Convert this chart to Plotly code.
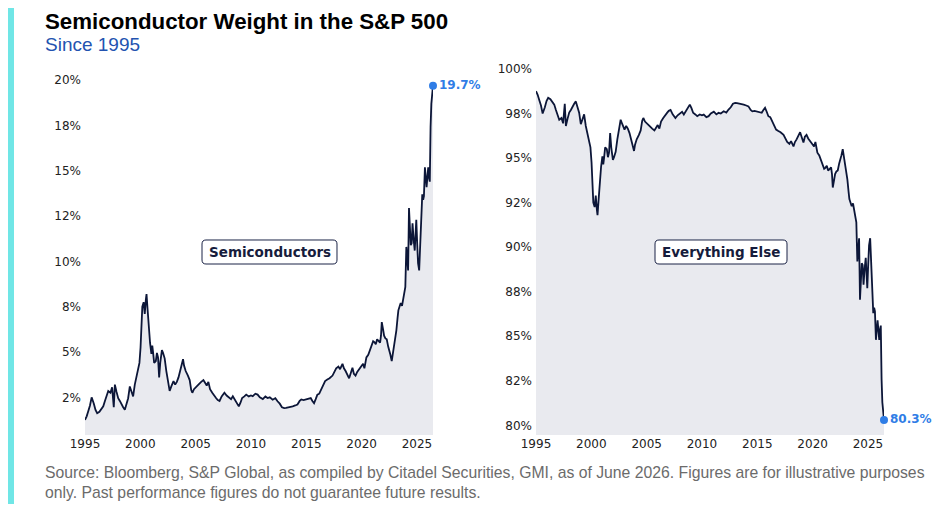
import plotly.graph_objects as go
from plotly.subplots import make_subplots

# decimal year of each reading
years = [
    1995.00, 1995.15, 1995.30, 1995.45, 1995.60, 1995.70, 1995.80, 1995.95,
    1996.10, 1996.30, 1996.50, 1996.65, 1996.80, 1996.95, 1997.10, 1997.30,
    1997.45, 1997.60, 1997.70, 1997.85, 1998.00, 1998.15, 1998.30, 1998.45,
    1998.60, 1998.75, 1998.90, 1999.05, 1999.20, 1999.35, 1999.50, 1999.65,
    1999.80, 1999.92, 2000.02, 2000.10, 2000.18, 2000.30, 2000.40, 2000.50,
    2000.56, 2000.65, 2000.72, 2000.80, 2000.88, 2001.00, 2001.08, 2001.15,
    2001.25, 2001.40, 2001.50, 2001.60, 2001.70, 2001.80, 2001.95, 2002.05,
    2002.20, 2002.35, 2002.50, 2002.65, 2002.80, 2003.00, 2003.15, 2003.30,
    2003.45, 2003.60, 2003.75, 2003.86, 2003.95, 2004.10, 2004.30, 2004.46,
    2004.60, 2004.70, 2004.85, 2005.05, 2005.25, 2005.50, 2005.70, 2005.85,
    2006.00, 2006.15, 2006.30, 2006.50, 2006.70, 2006.86, 2007.00, 2007.16,
    2007.35, 2007.60, 2007.80, 2008.06, 2008.20, 2008.36, 2008.55, 2008.75,
    2008.90, 2009.05, 2009.20, 2009.40, 2009.57, 2009.80, 2010.00, 2010.16,
    2010.40, 2010.60, 2010.80, 2011.07, 2011.30, 2011.50, 2011.70, 2011.96,
    2012.20, 2012.40, 2012.60, 2012.80, 2013.00, 2013.17, 2013.40, 2013.60,
    2013.77, 2014.00, 2014.20, 2014.40, 2014.55, 2014.75, 2014.97, 2015.20,
    2015.40, 2015.55, 2015.70, 2015.85, 2016.00, 2016.17, 2016.35, 2016.50,
    2016.70, 2016.90, 2017.10, 2017.37, 2017.55, 2017.70, 2017.90, 2018.05,
    2018.27, 2018.40, 2018.55, 2018.70, 2018.87, 2019.00, 2019.17, 2019.30,
    2019.45, 2019.60, 2019.77, 2019.95, 2020.13, 2020.25, 2020.43, 2020.60,
    2020.74, 2020.90, 2021.04, 2021.15, 2021.28, 2021.40, 2021.50, 2021.67,
    2021.75, 2021.82, 2021.95, 2022.03, 2022.15, 2022.27, 2022.40, 2022.48,
    2022.60, 2022.72, 2022.82, 2022.93, 2023.05, 2023.14, 2023.25, 2023.32,
    2023.45, 2023.53, 2023.65, 2023.75, 2023.85, 2023.95, 2024.04, 2024.12,
    2024.20, 2024.28, 2024.36, 2024.44, 2024.52, 2024.60, 2024.70, 2024.80,
    2024.88, 2024.94, 2025.02, 2025.10, 2025.20, 2025.28, 2025.33, 2025.40,
    2025.48, 2025.56, 2025.63, 2025.72, 2025.80, 2025.87, 2025.95, 2026.02,
    2026.10, 2026.16, 2026.23, 2026.30, 2026.45,
]

# semiconductor weight in the S&P 500, %
semis = [
    1.25, 1.45, 1.75, 2.05, 2.50, 2.35, 2.15, 1.80,
    1.62, 1.70, 1.90, 2.00, 2.30, 2.60, 2.85, 2.75,
    3.05, 1.95, 3.20, 2.80, 2.45, 2.30, 2.10, 1.95,
    1.82, 2.10, 2.45, 3.10, 2.75, 2.55, 3.20, 3.60,
    4.15, 4.40, 5.25, 6.50, 7.50, 7.75, 7.10, 7.90,
    8.20, 7.40, 6.70, 5.90, 5.50, 4.90, 5.35, 5.00,
    4.40, 4.50, 4.95, 4.70, 3.60, 4.40, 5.10, 4.95,
    4.65, 3.95, 3.40, 2.85, 3.10, 3.40, 3.20, 3.35,
    3.60, 3.95, 4.35, 4.60, 4.25, 3.95, 3.70, 3.45,
    2.90, 2.75, 2.95, 3.10, 3.20, 3.35, 3.45, 3.30,
    3.15, 3.35, 2.95, 2.75, 2.55, 2.45, 2.35, 2.30,
    2.55, 2.75, 2.60, 2.46, 2.40, 2.56, 2.35, 2.15,
    2.00, 2.20, 2.46, 2.55, 2.65, 2.55, 2.60, 2.56,
    2.70, 2.65, 2.50, 2.40, 2.55, 2.46, 2.50, 2.37,
    2.45, 2.28, 2.15, 1.95, 1.90, 1.92, 1.95, 1.95,
    2.00, 2.05, 2.10, 2.30, 2.38, 2.35, 2.40, 2.45,
    2.46, 2.30, 2.18, 2.40, 2.65, 2.70, 2.95, 3.20,
    3.40, 3.48, 3.55, 3.70, 3.95, 4.10, 4.20, 4.05,
    4.35, 4.10, 3.95, 3.75, 3.55, 3.80, 4.13, 3.80,
    3.70, 3.90, 4.05, 4.25, 4.35, 4.10, 4.70, 4.85,
    5.06, 5.30, 5.60, 5.55, 5.43, 5.70, 5.61, 5.52,
    5.90, 6.65, 6.20, 5.90, 5.75, 5.70, 5.30, 5.15,
    4.85, 4.50, 4.85, 5.25, 5.70, 6.20, 6.90, 7.30,
    7.55, 7.70, 7.55, 7.90, 8.05, 8.60, 10.80, 9.90,
    9.50, 12.95, 11.50, 10.90, 11.00, 12.10, 11.20, 10.60,
    11.60, 12.30, 11.00, 9.90, 9.50, 10.80, 11.90, 12.70,
    13.70, 13.40, 13.60, 15.20, 14.50, 14.10, 14.70, 15.20,
    14.60, 14.40, 17.40, 18.70, 19.70,
]

# everything else is the rest of the index
other = [round(100 - v, 2) for v in semis]

year_ticks = [1995, 2000, 2005, 2010, 2015, 2020, 2025]
left_ticks = [2.5, 5, 7.5, 10, 12.5, 15, 17.5, 20]
left_text = ["2%", "5%", "8%", "10%", "12%", "15%", "18%", "20%"]
right_ticks = [80, 82.5, 85, 87.5, 90, 92.5, 95, 97.5, 100]
right_text = ["80%", "82%", "85%", "88%", "90%", "92%", "95%", "98%", "100%"]

NAVY = "#0c1638"
FILL = "#e9eaef"
BLUE = "#2f7de6"

# the page puts the figure 8px in from the window corner
OFF = 8
W, H = 932, 504


def fx(px):
    return (px - OFF) / W


def fy(py):
    return 1 - (py - OFF) / H


def rounded_box(x0, y0, x1, y1, r):
    # rounded rectangle in window pixels -> paper path
    p = "M %f,%f " % (fx(x0 + r), fy(y0))
    p += "L %f,%f " % (fx(x1 - r), fy(y0))
    p += "Q %f,%f %f,%f " % (fx(x1), fy(y0), fx(x1), fy(y0 + r))
    p += "L %f,%f " % (fx(x1), fy(y1 - r))
    p += "Q %f,%f %f,%f " % (fx(x1), fy(y1), fx(x1 - r), fy(y1))
    p += "L %f,%f " % (fx(x0 + r), fy(y1))
    p += "Q %f,%f %f,%f " % (fx(x0), fy(y1), fx(x0), fy(y1 - r))
    p += "L %f,%f " % (fx(x0), fy(y0 + r))
    p += "Q %f,%f %f,%f Z" % (fx(x0), fy(y0), fx(x0 + r), fy(y0))
    return p


fig = make_subplots(rows=1, cols=2)

fig.add_trace(go.Scatter(x=years, y=semis, mode="lines",
                         line=dict(color=NAVY, width=1.8),
                         fill="tozeroy", fillcolor=FILL,
                         hoverinfo="skip"), row=1, col=1)
fig.add_trace(go.Scatter(x=years, y=other, mode="lines",
                         line=dict(color=NAVY, width=1.8),
                         fill="tozeroy", fillcolor=FILL,
                         hoverinfo="skip"), row=1, col=2)

# end-point markers with their labels
fig.add_trace(go.Scatter(x=[years[-1]], y=[semis[-1]], mode="markers+text",
                         marker=dict(color=BLUE, size=8),
                         text=["<b>%.1f%%</b>" % semis[-1]],
                         textposition="middle right",
                         textfont=dict(family="DejaVu Sans", size=12, color=BLUE),
                         cliponaxis=False), row=1, col=1)
fig.add_trace(go.Scatter(x=[years[-1]], y=[other[-1]], mode="markers+text",
                         marker=dict(color=BLUE, size=8),
                         text=["<b>%.1f%%</b>" % other[-1]],
                         textposition="middle right",
                         textfont=dict(family="DejaVu Sans", size=12, color=BLUE),
                         cliponaxis=False), row=1, col=2)

axis_common = dict(showgrid=False, zeroline=False, showline=False, ticks="",
                   automargin=False,
                   tickfont=dict(family="DejaVu Sans", size=12, color="#222222"))

fig.update_xaxes(**axis_common, tickvals=year_ticks,
                 ticktext=[str(y) for y in year_ticks],
                 range=[1995, years[-1]])
fig.update_xaxes(domain=[fx(85), fx(433)], row=1, col=1)
fig.update_xaxes(domain=[fx(536), fx(884)], row=1, col=2)
fig.update_yaxes(**axis_common, ticklabelstandoff=3)
fig.update_yaxes(tickvals=left_ticks, ticktext=left_text, range=[0.42, 20.51],
                 domain=[fy(435), fy(71)], row=1, col=1)
fig.update_yaxes(tickvals=right_ticks, ticktext=right_text, range=[79.46, 100.11],
                 domain=[fy(435), fy(67)], row=1, col=2)

# boxed series names
boxes = [("Semiconductors", 202, 337), ("Everything Else", 655, 787)]
for label, bx0, bx1 in boxes:
    fig.add_shape(type="path", xref="paper", yref="paper",
                  path=rounded_box(bx0, 240, bx1, 264, 4),
                  fillcolor="white", line=dict(color="#1b2346", width=1))
    fig.add_annotation(xref="paper", yref="paper",
                       x=fx((bx0 + bx1) / 2), y=fy(252),
                       xanchor="center", yanchor="middle",
                       text="<b>" + label + "</b>", showarrow=False,
                       font=dict(family="DejaVu Sans", size=13.5, color="#161c3c"))

fig.add_annotation(xref="paper", yref="paper", x=fx(44), y=1,
                   xanchor="left", yanchor="top", showarrow=False, borderpad=0,
                   text="<b>Semiconductor Weight in the S&P 500</b>",
                   font=dict(family="Liberation Sans", size=22.3, color="black"))
fig.add_annotation(xref="paper", yref="paper", x=fx(44), y=fy(44.5),
                   xanchor="left", yanchor="middle", showarrow=False, borderpad=0,
                   text="Since 1995",
                   font=dict(family="Liberation Sans", size=19, color="#2353b0"))
fig.add_annotation(xref="paper", yref="paper", x=fx(43), y=fy(482),
                   xanchor="left", yanchor="middle", align="left", showarrow=False,
                   text="Source: Bloomberg, S&P Global, as compiled by Citadel Securities, GMI, "
                        "as of June 2026. Figures are for illustrative purposes<br>"
                        "only. Past performance figures do not guarantee future results.",
                   font=dict(family="Liberation Sans", size=15.75, color="#6b6b6b"))

# cyan accent bar on the left edge
fig.add_shape(type="rect", xref="paper", yref="paper",
              x0=0, x1=fx(14), y0=fy(504), y1=1,
              fillcolor="#70e6e6", line=dict(width=0))

fig.update_layout(width=W, height=H, showlegend=False,
                  margin=dict(l=0, r=0, t=0, b=0),
                  paper_bgcolor="white", plot_bgcolor="white")

fig.write_html("out.html")
